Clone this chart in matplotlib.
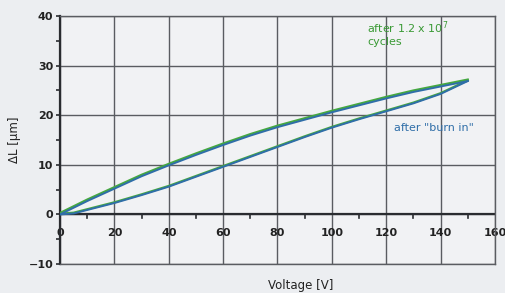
import matplotlib
matplotlib.use("Agg")
import matplotlib.pyplot as plt
import numpy as np

# hysteresis loop, rising branch then falling branch
volt_up = [0, 5, 10, 20, 30, 40, 50, 60, 70, 80, 90, 100, 110, 120, 130, 140, 150]
dl_up = [0, 0.2, 0.9, 2.3, 3.9, 5.6, 7.6, 9.6, 11.6, 13.6, 15.6, 17.5, 19.2, 20.8, 22.4, 24.3, 26.9]
volt_down = [150, 140, 130, 120, 110, 100, 90, 80, 70, 60, 50, 40, 30, 20, 10, 0]
dl_down = [26.9, 25.8, 24.7, 23.4, 22.0, 20.6, 19.1, 17.6, 15.9, 14.0, 12.0, 9.9, 7.7, 5.2, 2.7, 0]
# small offset of the green loop (after cycling) vs the blue one
green_shift = 0.3

x_ticks = [0, 20, 40, 60, 80, 100, 120, 140, 160]
y_ticks = [-10, 0, 10, 20, 30, 40]

bg = "#eceef1"
fig = plt.figure(figsize=(5.05, 2.93), dpi=100, facecolor=bg)
ax = fig.add_axes([0.119, 0.099, 0.861, 0.846], facecolor="#f1f2f4")
ax.set_xlim(0, 160); ax.set_ylim(-10, 40)
ax.set_xticks(x_ticks); ax.set_yticks(y_ticks)
ax.set_xticks(np.arange(10, 160, 20), minor=True); ax.set_yticks(np.arange(-5, 40, 10), minor=True)
ax.grid(True, which="major", color="#5a5c61", lw=1.0)
for s in ["top", "right", "bottom"]:
    ax.spines[s].set_color("#5a5c61"); ax.spines[s].set_linewidth(1.0)
ax.spines["left"].set_color("#2a2c30"); ax.spines["left"].set_linewidth(1.6)
ax.axhline(0, color="#2a2c30", lw=1.6, zorder=2)
ax.tick_params(axis="y", which="both", direction="out", length=3, width=1.2, color="#2a2c30",
               labelsize=8, pad=2, labelcolor="#222")
ax.tick_params(axis="x", which="both", length=0, labelsize=8, labelcolor="#222", pad=-26)
for lab in ax.get_xticklabels() + ax.get_yticklabels():
    lab.set_fontweight("bold")
# x minor ticks sit on the zero line
for v in np.arange(10, 160, 20):
    ax.plot([v, v], [0, -0.7], color="#2a2c30", lw=1.2, zorder=3, clip_on=False)

ax.plot(volt_up, np.array(dl_up) + green_shift * 0.5, color="#45a840", lw=1.6, zorder=4)
ax.plot(volt_down, np.array(dl_down) + green_shift, color="#45a840", lw=1.6, zorder=4)
ax.plot(volt_up, dl_up, color="#2f6ea8", lw=1.4, zorder=5)
ax.plot(volt_down, dl_down, color="#2f6ea8", lw=1.4, zorder=5)

ax.text(113, 36.6, "after 1.2 x 10$^7$\ncycles", color="#3a9a35", fontsize=8, va="center", ha="left",
        linespacing=1.1)
ax.text(123, 17.4, "after \"burn in\"", color="#2f6ea8", fontsize=8, va="center", ha="left")
ax.set_ylabel("ΔL [µm]", fontsize=8.5, color="#222", labelpad=5)
fig.text(0.595, 0.025, "Voltage [V]", fontsize=8.5, color="#222", ha="center", va="center")

fig.savefig("out.png", dpi=100, facecolor=bg)
